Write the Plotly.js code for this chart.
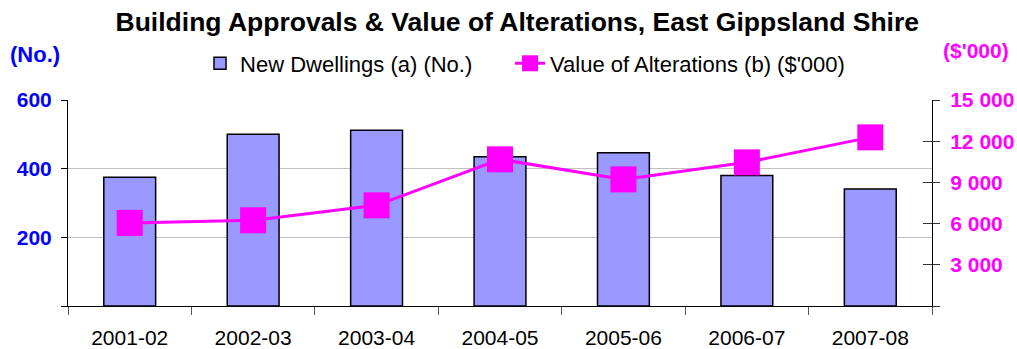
<!DOCTYPE html>
<html>
<head>
<meta charset="utf-8">
<script src="https://cdn.plot.ly/plotly-3.0.1.min.js"></script>
<style>
  html, body { margin: 0; padding: 0; background: #fff; }
  #chart { width: 1017px; height: 349px; }
</style>
</head>
<body>
<div id="chart"></div>
<script>
// Financial years
const years = ['2001-02', '2002-03', '2003-04', '2004-05', '2005-06', '2006-07', '2007-08'];

// New dwellings approved (number)
const newDwellings = [375, 500, 512, 435, 446, 380, 341];

// Value of alterations ($'000)
const alterationsValue = [6050, 6240, 7330, 10680, 9220, 10460, 12280];

// Axis tick values and labels
const leftTickVals = [0, 200, 400, 600];
const leftTickText = ['', '200', '400', '600'];
const rightTickVals = [0, 3000, 6000, 9000, 12000, 15000];
const rightTickText = ['', '3 000', '6 000', '9 000', '12 000', '15 000'];

const FONT = 'Liberation Sans, Arial, Helvetica, sans-serif';
const MAGENTA = '#FF00FF';
const BLUE = '#0000FF';

const traces = [
  {
    type: 'bar',
    name: 'New Dwellings (a) (No.)',
    x: years,
    y: newDwellings,
    legend: 'legend',
    marker: { color: '#9999FF', line: { color: '#000000', width: 1.5 } },
    hoverinfo: 'x+y'
  },
  {
    type: 'scatter',
    mode: 'lines+markers',
    name: "Value of Alterations (b) ($'000)",
    x: years,
    y: alterationsValue,
    yaxis: 'y2',
    legend: 'legend2',
    line: { color: MAGENTA, width: 3 },
    marker: { symbol: 'square', size: 26, color: MAGENTA },
    hoverinfo: 'x+y'
  },
  {
    // carries the inner tick marks of the right-hand axis
    type: 'scatter',
    x: [],
    y: [],
    yaxis: 'y3',
    showlegend: false,
    hoverinfo: 'skip'
  }
];

const legendStyle = {
  orientation: 'h',
  xanchor: 'left',
  y: 1.177, yanchor: 'middle',
  font: { family: FONT, size: 22, color: '#000000' },
  bgcolor: 'rgba(0,0,0,0)'
};

const layout = {
  width: 1017,
  height: 349,
  margin: { l: 68, r: 85, t: 100, b: 43 },
  paper_bgcolor: '#ffffff',
  plot_bgcolor: '#ffffff',
  font: { family: FONT, color: '#000000' },
  separators: '. ',
  bargap: 0.58,
  showlegend: true,
  title: {
    text: '<b>Building Approvals & Value of Alterations, East Gippsland Shire</b>',
    font: { family: FONT, size: 26.5, color: '#000000' },
    x: 0.52, xanchor: 'center', xref: 'paper',
    y: 0.937, yanchor: 'middle', yref: 'container'
  },
  legend: Object.assign({ x: 0.1528 }, legendStyle),
  legend2: Object.assign({ x: 0.5116 }, legendStyle),
  xaxis: {
    type: 'category',
    tickson: 'boundaries',
    ticks: 'outside',
    ticklen: 8,
    tickcolor: '#555555',
    tickwidth: 1,
    showline: true,
    linecolor: '#000000',
    linewidth: 1,
    showgrid: false,
    zeroline: false,
    tickfont: { family: FONT, size: 21, color: '#000000' },
    ticklabelstandoff: 13,
    fixedrange: true
  },
  yaxis: {
    range: [0, 600],
    tickvals: leftTickVals,
    ticktext: leftTickText,
    ticks: 'outside',
    ticklen: 6,
    tickcolor: '#000000',
    showline: true,
    linecolor: '#000000',
    linewidth: 1,
    showgrid: true,
    gridcolor: '#C0C0C0',
    gridwidth: 1,
    zeroline: false,
    tickfont: { family: FONT, size: 21, color: BLUE, weight: 'bold' },
    ticklabelstandoff: 5,
    fixedrange: true
  },
  yaxis2: {
    overlaying: 'y',
    side: 'right',
    range: [0, 15000],
    tickvals: rightTickVals,
    ticktext: rightTickText,
    ticks: 'outside',
    ticklen: 7,
    tickcolor: '#333333',
    showline: true,
    linecolor: '#000000',
    linewidth: 1,
    showgrid: false,
    zeroline: false,
    tickfont: { family: FONT, size: 21, color: MAGENTA, weight: 'bold' },
    ticklabelstandoff: 6,
    fixedrange: true
  },
  yaxis3: {
    overlaying: 'y',
    side: 'right',
    range: [0, 15000],
    tickvals: rightTickVals,
    ticks: 'inside',
    ticklen: 9,
    tickcolor: '#333333',
    showticklabels: false,
    showline: false,
    showgrid: false,
    zeroline: false,
    fixedrange: true
  },
  annotations: [
    {
      text: '<b>(No.)</b>',
      xref: 'paper', yref: 'paper',
      x: -0.069, xanchor: 'left',
      y: 1.223, yanchor: 'middle',
      showarrow: false,
      font: { family: FONT, size: 22, color: BLUE }
    },
    {
      text: "<b>($'000)</b>",
      xref: 'paper', yref: 'paper',
      x: 1.051, xanchor: 'center',
      y: 1.24, yanchor: 'middle',
      showarrow: false,
      font: { family: FONT, size: 21, color: MAGENTA }
    }
  ]
};

Plotly.newPlot('chart', traces, layout, { staticPlot: true, displayModeBar: false });
</script>
</body>
</html>
